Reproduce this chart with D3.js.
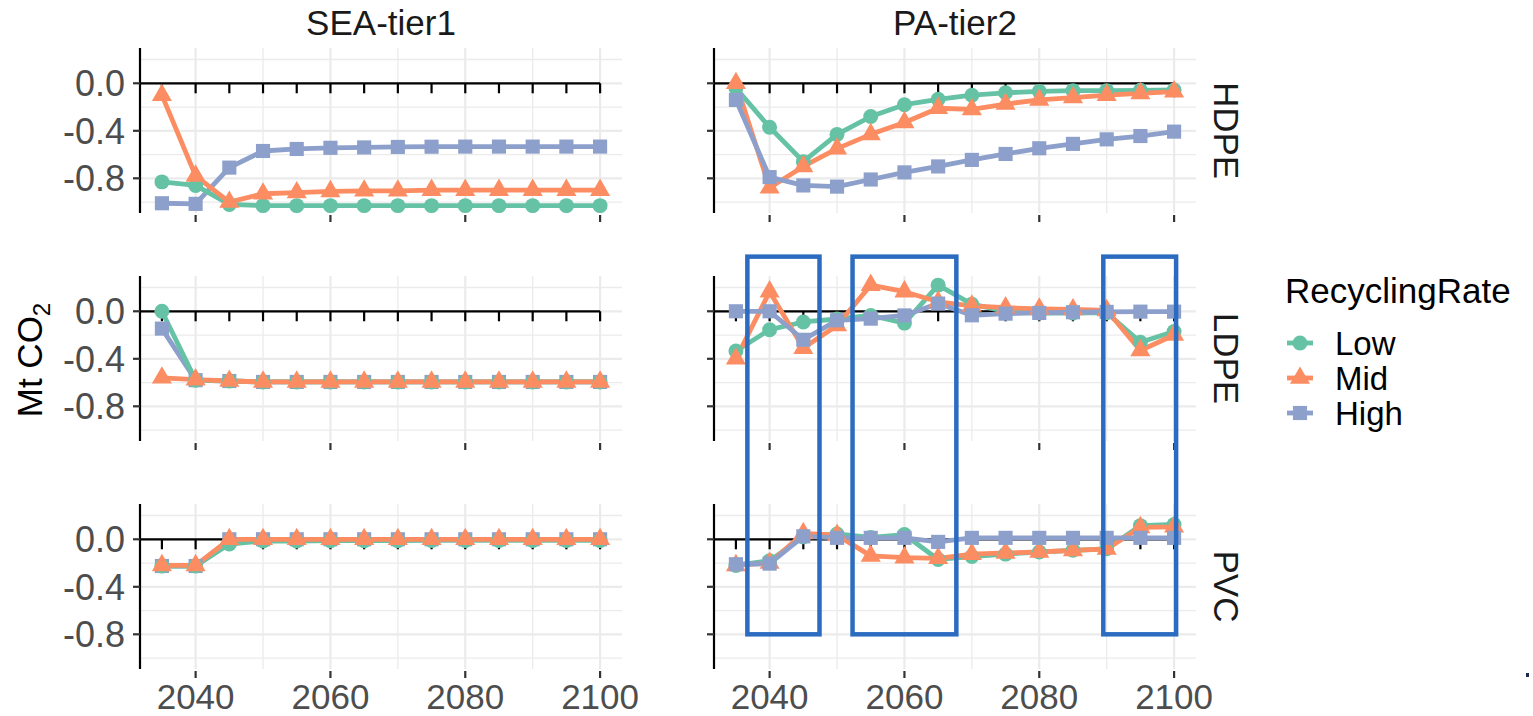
<!DOCTYPE html>
<html>
<head>
<meta charset="utf-8">
<script src="https://cdn.jsdelivr.net/npm/d3@7"></script>
<style>
  body { margin: 0; background: #fff; }
  svg { display: block; font-family: "Liberation Sans", Arial, sans-serif; }
</style>
</head>
<body>
<div id="chart"></div>
<script>
// data
let years = [2035, 2040, 2045, 2050, 2055, 2060, 2065, 2070, 2075, 2080, 2085, 2090, 2095, 2100];
let regions = ["SEA-tier1", "PA-tier2"];
let plastics = ["HDPE", "LDPE", "PVC"];
let rates = ["Low", "Mid", "High"];
let yTicks = [0.0, -0.4, -0.8];
let yMinor = [0.2, -0.2, -0.6, -1.0];
let xTicks = [2040, 2060, 2080, 2100];
let xMinor = [2050, 2070, 2090];

// SEA-tier1
let seaHdpeLow  = [-0.83, -0.86, -1.02, -1.03, -1.03, -1.03, -1.03, -1.03, -1.03, -1.03, -1.03, -1.03, -1.03, -1.03];
let seaHdpeMid  = [-0.10, -0.78, -1.00, -0.93, -0.92, -0.91, -0.905, -0.905, -0.90, -0.90, -0.90, -0.90, -0.90, -0.90];
let seaHdpeHigh = [-1.01, -1.015, -0.71, -0.57, -0.553, -0.543, -0.54, -0.536, -0.534, -0.533, -0.533, -0.533, -0.533, -0.533];
let seaLdpeLow  = [0.0, -0.58, -0.587, -0.595, -0.595, -0.595, -0.595, -0.595, -0.595, -0.595, -0.595, -0.595, -0.595, -0.595];
let seaLdpeMid  = [-0.56, -0.575, -0.587, -0.595, -0.595, -0.595, -0.595, -0.595, -0.595, -0.595, -0.595, -0.595, -0.595, -0.595];
let seaLdpeHigh = [-0.146, -0.58, -0.587, -0.595, -0.595, -0.595, -0.595, -0.595, -0.595, -0.595, -0.595, -0.595, -0.595, -0.595];
let seaPvcLow   = [-0.225, -0.225, -0.04, -0.015, -0.015, -0.012, -0.012, -0.012, -0.01, -0.01, -0.01, -0.01, -0.01, -0.01];
let seaPvcMid   = [-0.22, -0.22, 0.0, 0.0, 0.0, 0.0, 0.0, 0.0, 0.0, 0.0, 0.0, 0.0, 0.0, 0.0];
let seaPvcHigh  = [-0.225, -0.225, 0.0, 0.0, 0.0, 0.0, 0.0, 0.0, 0.0, 0.0, 0.0, 0.0, 0.0, 0.0];

// PA-tier2
let paHdpeLow  = [-0.04, -0.37, -0.66, -0.43, -0.28, -0.18, -0.135, -0.10, -0.08, -0.068, -0.062, -0.062, -0.059, -0.056];
let paHdpeMid  = [0.0, -0.88, -0.70, -0.55, -0.43, -0.33, -0.21, -0.22, -0.175, -0.14, -0.12, -0.10, -0.085, -0.07];
let paHdpeHigh = [-0.14, -0.79, -0.86, -0.87, -0.81, -0.75, -0.70, -0.645, -0.595, -0.547, -0.51, -0.472, -0.444, -0.407];
let paLdpeLow  = [-0.335, -0.155, -0.09, -0.065, -0.035, -0.10, 0.22, 0.06, 0.0, -0.015, -0.015, -0.012, -0.26, -0.17];
let paLdpeMid  = [-0.40, 0.165, -0.31, -0.12, 0.22, 0.165, 0.08, 0.045, 0.03, 0.02, 0.015, 0.008, -0.33, -0.20];
let paLdpeHigh = [0.0, 0.0, -0.24, -0.076, -0.062, -0.035, 0.065, -0.034, -0.02, -0.014, -0.008, -0.005, -0.003, -0.003];
let paPvcLow   = [-0.22, -0.18, 0.02, 0.045, 0.015, 0.04, -0.17, -0.145, -0.125, -0.107, -0.093, -0.08, 0.115, 0.125];
let paPvcMid   = [-0.22, -0.20, 0.05, 0.035, -0.14, -0.155, -0.16, -0.125, -0.115, -0.107, -0.093, -0.082, 0.10, 0.105];
let paPvcHigh  = [-0.21, -0.205, 0.025, 0.012, 0.012, 0.012, -0.022, 0.012, 0.012, 0.012, 0.012, 0.012, 0.012, 0.012];

// highlight boxes in PA-tier2 (years, top value in LDPE row, bottom value in PVC row)
let boxStart = [2036.7, 2052.3, 2089.5];
let boxEnd   = [2047.4, 2067.7, 2100.3];
let boxTopValue = 0.46;
let boxBottomValue = -0.8;

let series = {
    "SEA-tier1": {
        HDPE: {Low: seaHdpeLow, Mid: seaHdpeMid, High: seaHdpeHigh},
        LDPE: {Low: seaLdpeLow, Mid: seaLdpeMid, High: seaLdpeHigh},
        PVC:  {Low: seaPvcLow,  Mid: seaPvcMid,  High: seaPvcHigh}
    },
    "PA-tier2": {
        HDPE: {Low: paHdpeLow, Mid: paHdpeMid, High: paHdpeHigh},
        LDPE: {Low: paLdpeLow, Mid: paLdpeMid, High: paLdpeHigh},
        PVC:  {Low: paPvcLow,  Mid: paPvcMid,  High: paPvcHigh}
    }
};
// draw order differs between the two columns in the original
let drawOrder = {"SEA-tier1": ["High", "Low", "Mid"], "PA-tier2": ["Low", "Mid", "High"]};

let colors = {Low: "#66c2a5", Mid: "#fc8d62", High: "#8da0cb"};
let shapes = {Low: d3.symbolCircle, Mid: d3.symbolTriangle, High: d3.symbolSquare};
let shapeSize = {Low: 175, Mid: 175, High: 200};

let width = 1533, height = 716;
let panelLeft = [140, 714], panelW = 482;
let panelTop = [48, 276, 504], panelH = 165;
let svg;

function init() {
    svg = d3.select("#chart").append("svg")
        .attr("width", width)
        .attr("height", height);

    regions.forEach(function (reg, c) {
        plastics.forEach(function (pl, r) {
            renderPanel(reg, pl, c, r);
        });
    });

    renderStrips();
    renderBoxes();
    renderLegend();

    // y title
    let yt = svg.append("text")
        .attr("transform", "translate(42,360) rotate(-90)")
        .attr("text-anchor", "middle")
        .style("font-size", "35px")
        .attr("fill", "#000");
    yt.append("tspan").text("Mt CO");
    yt.append("tspan").text("2").style("font-size", "24px").attr("dy", 8);

    // small stray mark at bottom right of the original
    svg.append("rect").attr("x", 1526).attr("y", 673).attr("width", 3).attr("height", 4).attr("fill", "#1c2b4f");
}

function xScale(c) {
    return d3.scaleLinear().domain([2031.75, 2103.25]).range([panelLeft[c], panelLeft[c] + panelW]);
}

function yScale(r) {
    return d3.scaleLinear().domain([-1.092, 0.297]).range([panelTop[r] + panelH, panelTop[r]]);
}

function renderPanel(reg, pl, c, r) {
    let x = xScale(c), y = yScale(r);
    let g = svg.append("g");
    let x0 = panelLeft[c], x1 = panelLeft[c] + panelW;
    let y0 = panelTop[r], y1 = panelTop[r] + panelH;

    // grid
    g.selectAll(".vminor").data(xMinor).enter().append("line")
        .attr("x1", d => x(d)).attr("x2", d => x(d)).attr("y1", y0).attr("y2", y1)
        .attr("stroke", "#ebebeb").attr("stroke-width", 1.3);
    g.selectAll(".hminor").data(yMinor).enter().append("line")
        .attr("x1", x0).attr("x2", x1).attr("y1", d => y(d)).attr("y2", d => y(d))
        .attr("stroke", "#ebebeb").attr("stroke-width", 1.3);
    g.selectAll(".vmajor").data(xTicks).enter().append("line")
        .attr("x1", d => x(d)).attr("x2", d => x(d)).attr("y1", y0).attr("y2", y1)
        .attr("stroke", "#ebebeb").attr("stroke-width", 2.2);
    g.selectAll(".hmajor").data(yTicks).enter().append("line")
        .attr("x1", x0).attr("x2", x1).attr("y1", d => y(d)).attr("y2", d => y(d))
        .attr("stroke", "#ebebeb").attr("stroke-width", 2.2);

    // left axis
    g.append("line").attr("x1", x0).attr("x2", x0).attr("y1", y0).attr("y2", y1)
        .attr("stroke", "#000").attr("stroke-width", 2.2);
    g.selectAll(".ytick").data(yTicks).enter().append("line")
        .attr("x1", x0 - 7).attr("x2", x0).attr("y1", d => y(d)).attr("y2", d => y(d))
        .attr("stroke", "#333").attr("stroke-width", 2.2);
    if (c === 0) {
        g.selectAll(".ylab").data(yTicks).enter().append("text")
            .attr("x", x0 - 15).attr("y", d => y(d)).attr("dy", "0.36em")
            .attr("text-anchor", "end")
            .style("font-size", "36px").attr("fill", "#4d4d4d")
            .text(d => d3.format(".1f")(d).replace("−", "-"));
    }

    // bottom ticks
    g.selectAll(".xtick").data(xTicks).enter().append("line")
        .attr("x1", d => x(d)).attr("x2", d => x(d)).attr("y1", y1 + 2).attr("y2", y1 + 9)
        .attr("stroke", "#333").attr("stroke-width", 2.2);
    if (r === plastics.length - 1) {
        g.selectAll(".xlab").data(xTicks).enter().append("text")
            .attr("x", d => x(d)).attr("y", y1 + 40)
            .attr("text-anchor", "middle")
            .style("font-size", "35px").attr("fill", "#4d4d4d")
            .text(d => d);
    }

    // zero line with ticks every five years
    g.append("line").attr("x1", x0).attr("x2", x(years[years.length - 1]))
        .attr("y1", y(0)).attr("y2", y(0))
        .attr("stroke", "#000").attr("stroke-width", 2.2);
    g.selectAll(".ztick").data(years).enter().append("line")
        .attr("x1", d => x(d)).attr("x2", d => x(d)).attr("y1", y(0)).attr("y2", y(0) + 10)
        .attr("stroke", "#000").attr("stroke-width", 2.2);

    // lines then points
    let order = drawOrder[reg];
    let line = d3.line().x((d, i) => x(years[i])).y(d => y(d));
    order.forEach(function (rate) {
        g.append("path")
            .attr("d", line(series[reg][pl][rate]))
            .attr("fill", "none")
            .attr("stroke", colors[rate])
            .attr("stroke-width", 4.8)
            .attr("stroke-linejoin", "round");
    });
    order.forEach(function (rate) {
        g.selectAll(".pt-" + rate).data(series[reg][pl][rate]).enter().append("path")
            .attr("d", d3.symbol().type(shapes[rate]).size(shapeSize[rate]))
            .attr("transform", (d, i) => "translate(" + x(years[i]) + "," + y(d) + ")")
            .attr("fill", colors[rate]);
    });
}

function renderStrips() {
    regions.forEach(function (reg, c) {
        svg.append("text")
            .attr("x", panelLeft[c] + panelW / 2)
            .attr("y", 35)
            .attr("text-anchor", "middle")
            .style("font-size", "35px").attr("fill", "#1a1a1a")
            .text(reg);
    });
    plastics.forEach(function (pl, r) {
        let cy = panelTop[r] + panelH / 2;
        svg.append("text")
            .attr("transform", "translate(1227," + cy + ") rotate(90)")
            .attr("text-anchor", "middle")
            .attr("dy", "0.36em")
            .style("font-size", "35px").attr("fill", "#1a1a1a")
            .text(pl);
    });
}

function renderBoxes() {
    let x = xScale(1);
    let yTop = yScale(1), yBot = yScale(2);
    boxStart.forEach(function (b, i) {
        svg.append("rect")
            .attr("x", x(b))
            .attr("y", yTop(boxTopValue))
            .attr("width", x(boxEnd[i]) - x(b))
            .attr("height", yBot(boxBottomValue) - yTop(boxTopValue))
            .attr("fill", "none")
            .attr("stroke", "#2c6cc0")
            .attr("stroke-width", 4.5);
    });
}

function renderLegend() {
    let lg = svg.append("g");
    lg.append("text").attr("x", 1285).attr("y", 303)
        .style("font-size", "35px").attr("fill", "#000")
        .text("RecyclingRate");
    let keyY = [343, 378, 413];
    rates.forEach(function (rate, i) {
        lg.append("line").attr("x1", 1287).attr("x2", 1313).attr("y1", keyY[i]).attr("y2", keyY[i])
            .attr("stroke", colors[rate]).attr("stroke-width", 4.8);
        lg.append("path")
            .attr("d", d3.symbol().type(shapes[rate]).size(shapeSize[rate]))
            .attr("transform", "translate(1300," + keyY[i] + ")")
            .attr("fill", colors[rate]);
        lg.append("text").attr("x", 1335).attr("y", keyY[i]).attr("dy", "0.36em")
            .style("font-size", "33px").attr("fill", "#000")
            .text(rate);
    });
}

init();
</script>
</body>
</html>
